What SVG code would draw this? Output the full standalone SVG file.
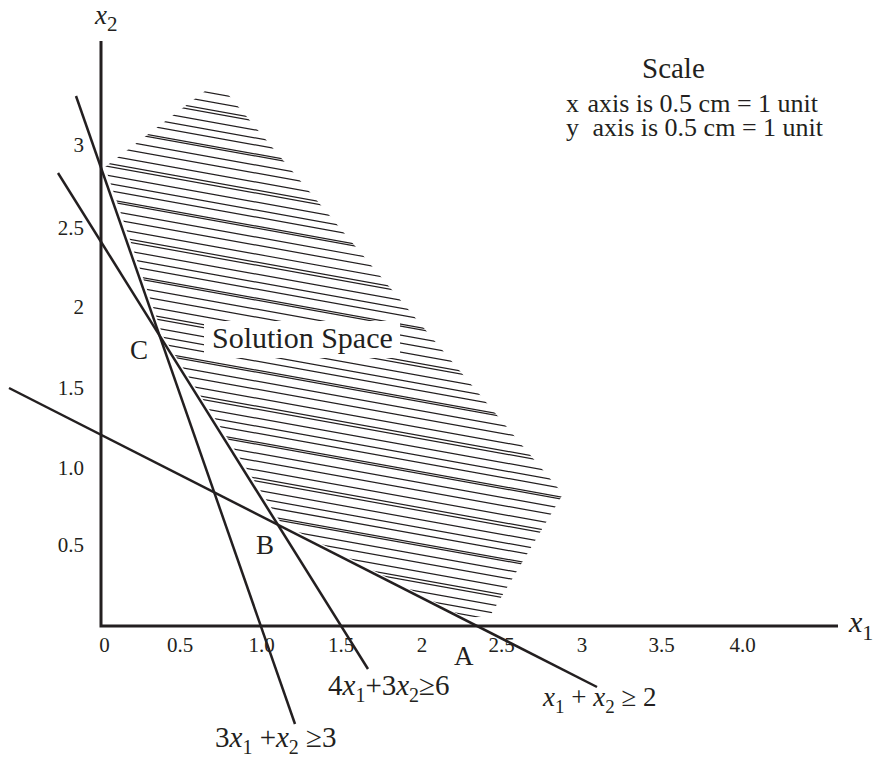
<svg xmlns="http://www.w3.org/2000/svg" width="876" height="758" viewBox="0 0 876 758">
<style>
.t{font-family:"Liberation Serif","Times New Roman",serif;fill:#231f20}
.i{font-style:italic}
.ax{stroke:#231f20;stroke-width:3;fill:none}
.ln{stroke:#231f20;stroke-width:2.5;fill:none}
.h{stroke:#231f20;stroke-width:1.2;fill:none}
</style>
<defs>
<clipPath id="reg">
<polygon points="205,91 226,92 563,494 490,616 466,618 281,523 163,336 105,167"/>
</clipPath>
</defs>
<rect width="876" height="758" fill="#fff"/>
<g id="hatch" clip-path="url(#reg)">
<path class="h" d="M100,73l470,84.6M100,82l470,84.6M100,90l470,84.6M100,93l470,84.6M100,102l470,84.6M100,110l470,84.6M100,117l470,84.6M100,126l470,84.6M100,128l470,84.6M100,137l470,84.6M100,145l470,84.6M100,154l470,84.6M100,162l470,84.6M100,165l470,84.6M100,174l470,84.6M100,182l470,84.6M100,189l470,84.6M100,198l470,84.6M100,200l470,84.6M100,209l470,84.6M100,217l470,84.6M100,226l470,84.6M100,234l470,84.6M100,237l470,84.6M100,246l470,84.6M100,254l470,84.6M100,261l470,84.6M100,270l470,84.6M100,272l470,84.6M100,281l470,84.6M100,289l470,84.6M100,298l470,84.6M100,306l470,84.6M100,309l470,84.6M100,318l470,84.6M100,326l470,84.6M100,333l470,84.6M100,342l470,84.6M100,344l470,84.6M100,353l470,84.6M100,361l470,84.6M100,370l470,84.6M100,378l470,84.6M100,381l470,84.6M100,390l470,84.6M100,398l470,84.6M100,405l470,84.6M100,414l470,84.6M100,416l470,84.6M100,425l470,84.6M100,433l470,84.6M100,442l470,84.6M100,450l470,84.6M100,453l470,84.6M100,462l470,84.6M100,470l470,84.6M100,477l470,84.6M100,486l470,84.6M100,488l470,84.6M100,497l470,84.6M100,505l470,84.6M100,514l470,84.6M100,522l470,84.6M100,525l470,84.6M100,534l470,84.6M100,542l470,84.6M100,549l470,84.6"/>
</g>
<g id="solution-label">
<rect x="204" y="321" width="196" height="37" fill="#fff"/>
<text class="t" x="212" y="348" font-size="30">Solution Space</text>
</g>
<g id="axes">
<path class="ax" d="M101,41V626H838"/>
<text class="t" font-size="27" x="95" y="24"><tspan class="i">x</tspan><tspan font-size="21" dy="7">2</tspan></text>
<text class="t" font-size="30" x="849" y="632"><tspan class="i">x</tspan><tspan font-size="22" dy="8">1</tspan></text>
</g>
<g id="y-ticks" class="t" font-size="21" text-anchor="end">
<text x="84" y="152">3</text>
<text x="84" y="235">2.5</text>
<text x="84" y="314">2</text>
<text x="84" y="395">1.5</text>
<text x="84" y="475">1.0</text>
<text x="84" y="552">0.5</text>
</g>
<g id="x-ticks" class="t" font-size="21" text-anchor="middle">
<text x="104.5" y="652">0</text>
<text x="180" y="652">0.5</text>
<text x="261.5" y="652">1.0</text>
<text x="341" y="652">1.5</text>
<text x="422" y="652">2</text>
<text x="501.5" y="652">2.5</text>
<text x="582" y="652">3</text>
<text x="661.5" y="652">3.5</text>
<text x="742.5" y="652">4.0</text>
</g>
<g id="connectors">
<line class="ln" x1="76" y1="96" x2="295" y2="724"/>
<line class="ln" x1="58" y1="173" x2="368" y2="669"/>
<line class="ln" x1="9" y1="388" x2="597" y2="687"/>
</g>
<g id="points" class="t" font-size="27">
<text x="130" y="359">C</text>
<text x="256" y="554">B</text>
<text x="454" y="665">A</text>
</g>
<g id="constraint-labels" class="t">
<text x="328" y="695" font-size="29">4<tspan class="i">x</tspan><tspan font-size="20" dy="7">1</tspan><tspan dy="-7">+3</tspan><tspan class="i">x</tspan><tspan font-size="20" dy="7">2</tspan><tspan dy="-7">≥6</tspan></text>
<text x="215" y="747" font-size="29">3<tspan class="i">x</tspan><tspan font-size="20" dy="7">1</tspan><tspan dy="-7"> +</tspan><tspan class="i">x</tspan><tspan font-size="20" dy="7">2</tspan><tspan dy="-7"> ≥3</tspan></text>
<text x="543" y="706" font-size="27"><tspan class="i">x</tspan><tspan font-size="19" dy="7">1</tspan><tspan dy="-7"> + </tspan><tspan class="i">x</tspan><tspan font-size="19" dy="7">2</tspan><tspan dy="-7"> ≥ 2</tspan></text>
</g>
<g id="scale" class="t" font-size="26">
<text x="642" y="78" font-size="29">Scale</text>
<text x="566" y="112">x</text>
<text x="818" y="112" text-anchor="end">axis is 0.5 cm = 1 unit</text>
<text x="566" y="136">y</text>
<text x="823" y="136" text-anchor="end">axis is 0.5 cm = 1 unit</text>
</g>
</svg>
